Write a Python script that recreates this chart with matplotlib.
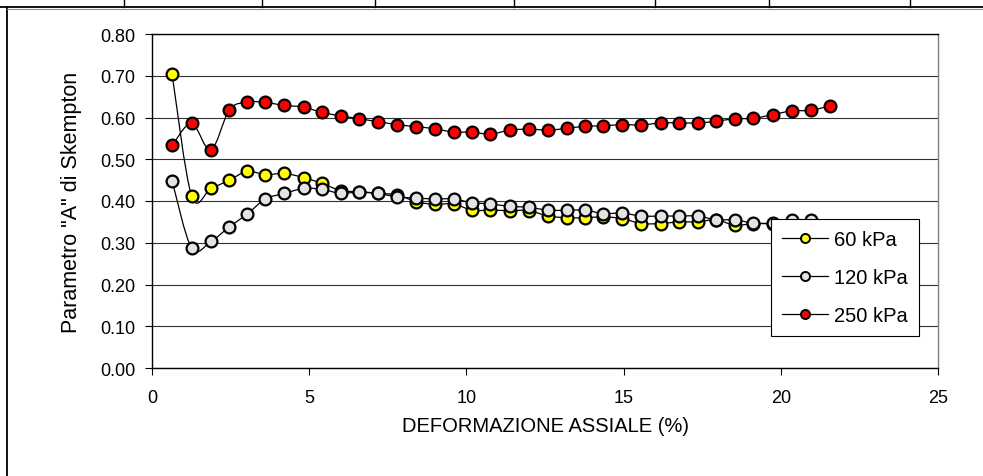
import matplotlib
matplotlib.use("Agg")
import matplotlib.pyplot as plt
from matplotlib.path import Path
from matplotlib.patches import PathPatch
from matplotlib.lines import Line2D

plt.rcParams['font.family'] = ['Liberation Sans', 'DejaVu Sans']

# deformazione assiale (%)
deformazione = [0.64, 1.26, 1.87, 2.46, 3.03, 3.61, 4.21, 4.82, 5.41, 6.01,
                6.59, 7.19, 7.79, 8.41, 9.00, 9.59, 10.18, 10.76, 11.39, 11.98,
                12.60, 13.19, 13.78, 14.36, 14.96, 15.56, 16.18, 16.77, 17.36, 17.94,
                18.54, 19.13, 19.75, 20.36, 20.96, 21.55]

a_60 = [0.703, 0.412, 0.430, 0.450, 0.471, 0.463, 0.466, 0.456, 0.442, 0.425,
        0.422, 0.418, 0.415, 0.398, 0.392, 0.393, 0.378, 0.378, 0.377, 0.377,
        0.364, 0.360, 0.360, 0.362, 0.358, 0.346, 0.346, 0.350, 0.350, 0.355,
        0.342, 0.346, 0.346, 0.350, 0.350]

a_120 = [0.448, 0.287, 0.303, 0.338, 0.369, 0.405, 0.418, 0.430, 0.428, 0.418,
         0.422, 0.418, 0.410, 0.407, 0.405, 0.405, 0.396, 0.393, 0.387, 0.385,
         0.378, 0.378, 0.378, 0.370, 0.371, 0.364, 0.364, 0.364, 0.364, 0.355,
         0.355, 0.347, 0.347, 0.354, 0.354]

a_250 = [0.533, 0.586, 0.522, 0.618, 0.637, 0.636, 0.629, 0.625, 0.612, 0.604,
         0.597, 0.590, 0.583, 0.578, 0.573, 0.565, 0.565, 0.560, 0.570, 0.572,
         0.570, 0.574, 0.579, 0.580, 0.583, 0.582, 0.587, 0.587, 0.587, 0.591,
         0.597, 0.598, 0.607, 0.616, 0.617, 0.628]

serie = [("60 kPa", a_60, "#ffff00"),
         ("120 kPa", a_120, "#e3e3e3"),
         ("250 kPa", a_250, "#ff0000")]

yticks = [0.0, 0.1, 0.2, 0.3, 0.4, 0.5, 0.6, 0.7, 0.8]
xticks = [0, 5, 10, 15, 20, 25]


def smooth_path(x, y):
    # curva di Bezier tipo Excel (linea smussata)
    n = len(x)
    verts = [(x[0], y[0])]
    codes = [Path.MOVETO]
    for i in range(n - 1):
        p0 = i - 1 if i > 0 else i
        p3 = i + 2 if i + 2 < n else i + 1
        c1 = (x[i] + (x[i + 1] - x[p0]) / 6, y[i] + (y[i + 1] - y[p0]) / 6)
        c2 = (x[i + 1] - (x[p3] - x[i]) / 6, y[i + 1] - (y[p3] - y[i]) / 6)
        verts += [c1, c2, (x[i + 1], y[i + 1])]
        codes += [Path.CURVE4] * 3
    return Path(verts, codes)


W, H = 983, 477
fig = plt.figure(figsize=(W / 100, H / 100), dpi=100)
ax = fig.add_axes([152 / W, 1 - 369 / H, (938 - 152) / W, (369 - 35) / H])

handles = []
for k, (nome, vals, col) in enumerate(serie):
    xs = deformazione[:len(vals)]
    ax.add_patch(PathPatch(smooth_path(xs, vals), fill=False, ec='black',
                           lw=0.9, zorder=3 + 2 * k))
    ax.plot(xs, vals, ls='none', marker='o', ms=8.5, mfc=col, mec='black',
            mew=1.6, zorder=4 + 2 * k)
    handles.append(Line2D([], [], color='black', lw=0.9, marker='o', ms=6.5,
                          mfc=col, mec='black', mew=1.4, label=nome))

ax.set_xlim(0, 25)
ax.set_ylim(0, 0.8)
ax.set_xticks(xticks)
ax.set_yticks(yticks)
ax.set_yticklabels([f"{v:.2f}" for v in yticks])
ax.yaxis.grid(True, color='#333333', lw=0.8)
ax.set_axisbelow(True)
ax.tick_params(axis='both', direction='out', length=5, width=0.8,
               labelsize=13, color='black')
ax.tick_params(axis='y', pad=7)
ax.tick_params(axis='x', pad=10)
for s in ['left', 'bottom', 'top']:
    ax.spines[s].set_color('black')
    ax.spines[s].set_linewidth(1.0)
ax.spines['right'].set_color('#808080')
ax.spines['right'].set_linewidth(1.0)

ax.set_xlabel("DEFORMAZIONE ASSIALE (%)", fontsize=14.5, labelpad=7)
ax.set_ylabel('Parametro "A" di Skempton', fontsize=15.5, labelpad=13)

leg = ax.legend(handles=handles, loc='upper left',
                bbox_to_anchor=(771 / W, 1 - 220 / H), bbox_transform=fig.transFigure,
                borderaxespad=0, fontsize=14.5, frameon=True, fancybox=False,
                edgecolor='black', framealpha=1, labelspacing=0.95,
                handlelength=2.3, handletextpad=0.3, borderpad=0.55)
leg.get_frame().set_linewidth(0.8)
leg.set_zorder(20)

# cornice del foglio
def fline(x0, y0, x1, y1, **kw):
    fig.add_artist(Line2D([x0 / W, x1 / W], [1 - y0 / H, 1 - y1 / H],
                          transform=fig.transFigure, **kw))

fline(0, 8, W, 8, color='black', lw=1.3)
for xv in [124, 262, 375, 514, 655, 769, 910]:
    fline(xv, 0, xv, 8, color='black', lw=1.0)
fline(6.5, 8, 6.5, H, color='black', lw=1.3)
fline(6.5, 9.7, W, 9.7, color='#909090', lw=0.8)

fig.savefig("out.png", dpi=100)
